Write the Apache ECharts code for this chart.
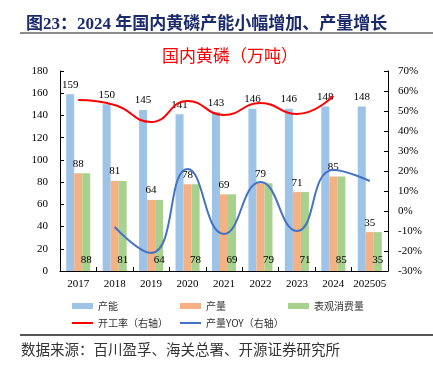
<!DOCTYPE html>
<html><head><meta charset="utf-8">
<script src="https://cdn.jsdelivr.net/npm/echarts@6/dist/echarts.min.js"></script>
<style>html,body{margin:0;padding:0;background:#fff}#c{width:433px;height:372px}</style>
</head><body><div id="c"></div>
<script>
var categories = ['2017','2018','2019','2020','2021','2022','2023','2024','202505'];
var capacity = [159,150,145,141,143,146,146,148,148];
var output = [88,81,64,78,69,79,71,85,35];
var consumption = [88,81,64,78,69,79,71,85,35];
var operatingRate = [55.5,53,44.5,55,48,54,48.5,57.5,null];
var outputYoy = [null,-8,-21,21,-11.5,14.5,-10,20.5,15];
var leftTicks = {min:0,max:180,interval:20};
var rightTicks = {min:-30,max:70,interval:10};

var serif = '"Liberation Serif","Times New Roman","Noto Sans CJK SC",serif';
var cjk = '"Noto Sans CJK SC",sans-serif';
var chart = echarts.init(document.getElementById('c'), null, {renderer:'canvas'});
var lblBase = {show:true, color:'#000', fontFamily:serif, fontSize:11};
function legend(name, left, top, h){
  return {data:[name], left:left, top:top, itemWidth:21, itemHeight:h, itemGap:0,
    icon:'rect', textStyle:{fontFamily:cjk, fontSize:10, color:'#333'}, selectedMode:false};
}
chart.setOption({
  animation:false,
  backgroundColor:'#fff',
  title:[
    {text:'图23：2024 年国内黄磷产能小幅增加、产量增长', left:21, top:11,
     textStyle:{fontFamily:serif, fontSize:17, fontWeight:'bold', color:'#1B2A6B'}},
    {text:'国内黄磷（万吨）', left:162, top:47, padding:0,
     textStyle:{fontFamily:cjk, fontSize:17, fontWeight:'normal', color:'#FF0000'}},
    {text:'数据来源：百川盈孚、海关总署、开源证券研究所', left:21, top:342, padding:0,
     textStyle:{fontFamily:cjk, fontSize:14.5, fontWeight:'normal', color:'#333'}}
  ],
  graphic:[
    {type:'rect', shape:{x:20,y:32,width:413,height:2}, style:{fill:'#8c8c8c'}},
    {type:'rect', shape:{x:20,y:334,width:413,height:2}, style:{fill:'#555'}}
  ],
  legend:[
    legend('产能',67,296,6), legend('产量',175,296,6), legend('表观消费量',283,296,6),
    legend('开工率（右轴）',67,313,2), legend('产量YOY（右轴）',175,313,2)
  ],
  grid:{left:60, right:45, top:71, bottom:101},
  xAxis:{type:'category', data:categories,
    axisLine:{lineStyle:{color:'#000',width:1}},
    axisTick:{show:true, inside:true, length:4, lineStyle:{color:'#000'}},
    axisLabel:{color:'#000', fontFamily:serif, fontSize:11, margin:8, interval:0}},
  yAxis:[
    {type:'value', min:leftTicks.min, max:leftTicks.max, interval:leftTicks.interval,
     splitLine:{show:false},
     axisLine:{show:true, lineStyle:{color:'#000'}},
     axisTick:{show:true, inside:true, length:4, lineStyle:{color:'#000'}},
     axisLabel:{color:'#000', fontFamily:serif, fontSize:11, margin:12}},
    {type:'value', min:rightTicks.min, max:rightTicks.max, interval:rightTicks.interval,
     splitLine:{show:false},
     axisLine:{show:true, lineStyle:{color:'#000'}},
     axisTick:{show:true, inside:true, length:4, lineStyle:{color:'#000'}},
     axisLabel:{color:'#000', fontFamily:serif, fontSize:11, margin:10, formatter:'{value}%'}}
  ],
  series:[
    {name:'产能', type:'bar', data:capacity, barGap:'0%', barCategoryGap:'34%',
     itemStyle:{color:'#9DC3E6'}, label:Object.assign({position:'top', distance:4}, lblBase)},
    {name:'产量', type:'bar', data:output, barGap:'0%',
     itemStyle:{color:'#F4B183'}, label:Object.assign({position:'top', distance:4}, lblBase)},
    {name:'表观消费量', type:'bar', data:consumption, barGap:'0%',
     itemStyle:{color:'#A9D18E'}, label:Object.assign({position:'insideBottom', distance:5}, lblBase)},
    {name:'开工率（右轴）', type:'line', yAxisIndex:1, data:operatingRate, smooth:0.5,
     showSymbol:false, lineStyle:{color:'#FF0000', width:2}, itemStyle:{color:'#FF0000'}},
    {name:'产量YOY（右轴）', type:'line', yAxisIndex:1, data:outputYoy, smooth:0.5,
     showSymbol:false, lineStyle:{color:'#4472C4', width:2}, itemStyle:{color:'#4472C4'}}
  ]
});
</script></body></html>
